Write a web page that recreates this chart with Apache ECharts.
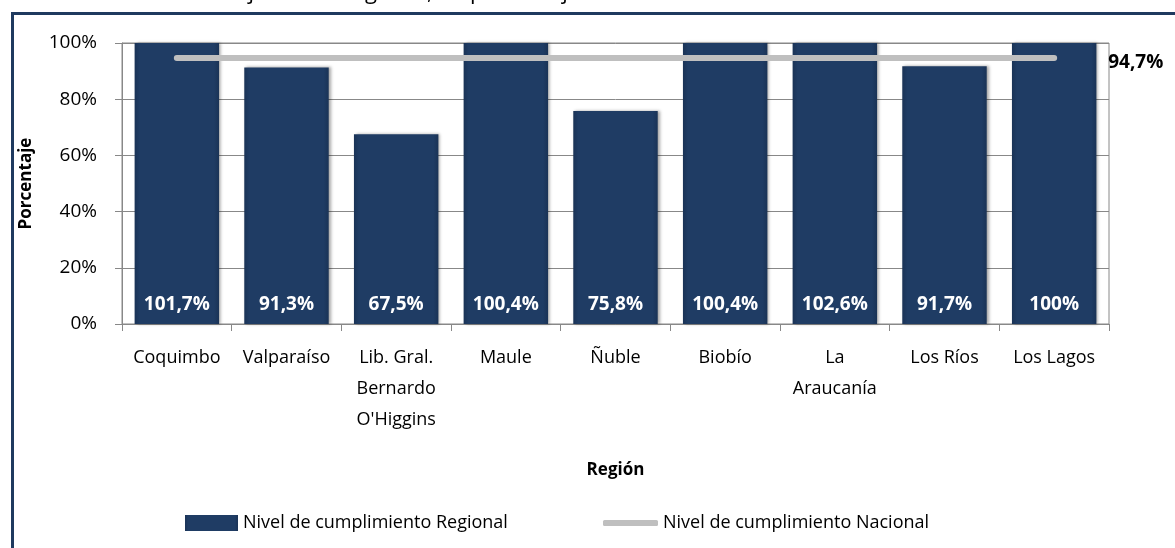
<!DOCTYPE html>
<html>
<head>
<meta charset="utf-8">
<script src="https://cdn.jsdelivr.net/npm/echarts@6/dist/echarts.min.js"></script>
<style>
  html, body { margin: 0; padding: 0; background: #fff; }
  #main { width: 1175px; height: 548px; }
</style>
</head>
<body>
<div id="main"></div>
<script>
var regiones = ['Coquimbo', 'Valparaíso', "Lib. Gral.\nBernardo\nO'Higgins", 'Maule', 'Ñuble', 'Biobío', 'La\nAraucanía', 'Los Ríos', 'Los Lagos'];
var cumplimientoRegional = [101.7, 91.3, 67.5, 100.4, 75.8, 100.4, 102.6, 91.7, 100];
var cumplimientoNacional = [94.7, 94.7, 94.7, 94.7, 94.7, 94.7, 94.7, 94.7, 94.7];
var yTicks = [0, 20, 40, 60, 80, 100];

var fuente = '"Open Sans", sans-serif';
function pct(v) { return String(v).replace('.', ',') + '%'; }

var chart = echarts.init(document.getElementById('main'));
chart.setOption({
  animation: false,
  textStyle: { fontFamily: fuente },
  graphic: [
    {
      type: 'rect', left: 10, top: 11,
      shape: { width: 1300, height: 700 },
      style: { fill: 'none', stroke: '#1F3A5F', lineWidth: 3 }
    },
    {
      type: 'text', left: 0, top: -18,
      style: { text: 'Gráfico N° 10: Nivel de ejecución Regional, en porcentaje', font: '22px "Open Sans"', fill: '#000' }
    }
  ],
  grid: { left: 122, right: 66, top: 43, bottom: 224, show: true, borderColor: '#888', borderWidth: 1, backgroundColor: 'transparent' },
  legend: [
    {
      left: 180, top: 509, itemWidth: 53, itemHeight: 16, itemGap: 4,
      textStyle: { fontSize: 18, color: '#000', fontFamily: fuente },
      data: [{ name: 'Nivel de cumplimiento Regional', icon: 'rect' }]
    },
    {
      left: 598, top: 509, itemWidth: 55, itemHeight: 6,
      textStyle: { fontSize: 18, color: '#000', fontFamily: fuente },
      data: [{ name: 'Nivel de cumplimiento Nacional', icon: 'roundRect' }]
    }
  ],
  xAxis: {
    type: 'category',
    data: regiones,
    name: 'Región',
    nameLocation: 'middle',
    nameGap: 138,
    nameTextStyle: { fontSize: 17, fontWeight: 'bold', color: '#000', fontFamily: fuente },
    axisLine: { lineStyle: { color: '#888', width: 1 } },
    axisTick: { show: true, length: 7, lineStyle: { color: '#888' } },
    axisLabel: { interval: 0, margin: 18, fontSize: 18, lineHeight: 31, color: '#000', fontFamily: fuente }
  },
  yAxis: {
    type: 'value',
    min: 0, max: 100, interval: 20,
    name: 'Porcentaje',
    nameLocation: 'middle',
    nameRotate: 90,
    nameGap: 87,
    nameTextStyle: { fontSize: 17, fontWeight: 'bold', color: '#000', fontFamily: fuente },
    axisLine: { show: true, lineStyle: { color: '#888', width: 1 } },
    axisTick: { show: true, length: 7, lineStyle: { color: '#888' } },
    axisLabel: {
      margin: 25, fontSize: 19, color: '#000', fontFamily: fuente,
      formatter: function (v) { return yTicks.indexOf(v) >= 0 ? v + '%' : ''; }
    },
    splitLine: { lineStyle: { color: '#888', width: 1 } }
  },
  series: [
    {
      name: 'Nivel de cumplimiento Regional',
      type: 'bar',
      data: cumplimientoRegional,
      barCategoryGap: '23%',
      clip: true,
      itemStyle: {
        color: new echarts.graphic.LinearGradient(0, 0, 1, 0, [
          { offset: 0, color: '#1A3356' },
          { offset: 0.06, color: '#1F3C64' },
          { offset: 0.94, color: '#1F3C64' },
          { offset: 1, color: '#1A3356' }
        ]),
        borderColor: '#2E5283',
        borderWidth: 0,
        shadowColor: 'rgba(0,0,0,0.35)',
        shadowBlur: 3,
        shadowOffsetX: 2
      },
      label: {
        show: true,
        position: 'insideBottom',
        distance: 10,
        color: '#fff',
        fontSize: 19,
        fontWeight: 'bold',
        fontFamily: fuente,
        formatter: function (p) { return pct(p.value); }
      }
    },
    {
      name: 'Nivel de cumplimiento Nacional',
      type: 'line',
      data: cumplimientoNacional,
      symbol: 'none',
      color: '#BFBFBF',
      lineStyle: { color: '#BFBFBF', width: 6, cap: 'round' },
      endLabel: {
        show: true,
        distance: 54,
        offset: [0, 5],
        color: '#000',
        fontSize: 19,
        fontWeight: 'bold',
        fontFamily: fuente,
        formatter: function (p) { return pct(p.value); }
      },
      z: 5
    }
  ]
});
</script>
</body>
</html>
